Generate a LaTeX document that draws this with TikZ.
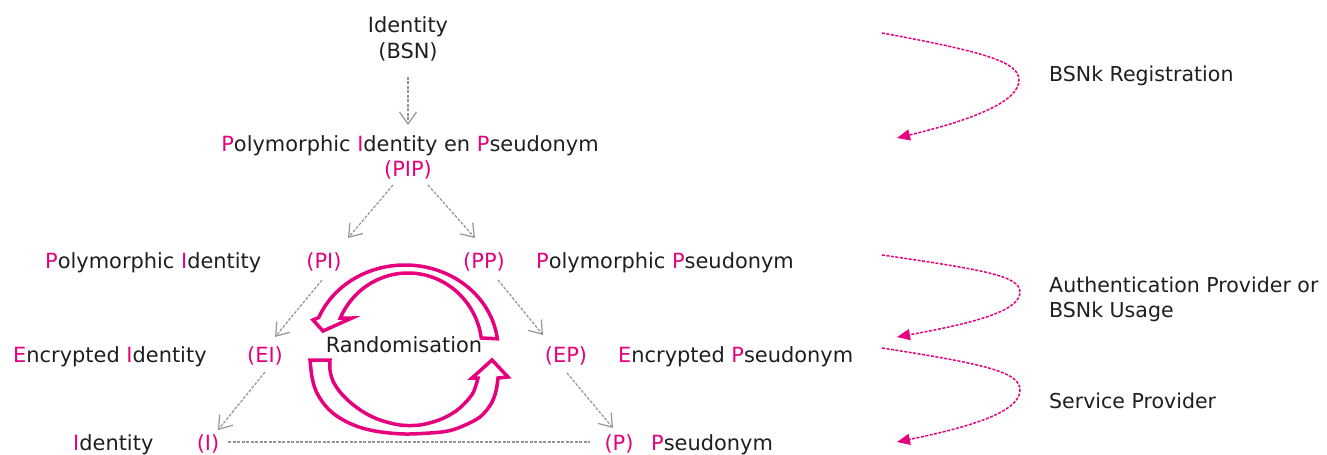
\documentclass[tikz,border=0pt]{standalone}
\usepackage{fontspec}
\setmainfont{DejaVu Sans}
\usetikzlibrary{arrows.meta}
\definecolor{pk}{HTML}{E6007E}
\definecolor{gr}{HTML}{959595}
\definecolor{tx}{HTML}{1E1E1E}
\newcommand{\pinkc}[1]{\textcolor{pk}{#1}}
\begin{document}
\begin{tikzpicture}[x=1bp,y=-1bp,
  lbl/.style={inner sep=0pt, text=tx, font=\fontsize{21}{25}\selectfont},
  rlbl/.style={lbl, font=\fontsize{20.6}{25}\selectfont},
  plbl/.style={lbl, text=pk},
  flow/.style={draw=gr, line width=1.2bp, dash pattern=on 3bp off 1.5bp,
    -{Straight Barb[length=12bp,width=17bp,line width=1.2bp]}},
  link/.style={draw=gr, line width=1.2bp, dash pattern=on 3bp off 1.5bp},
  stage/.style={draw=pk, line width=1.5bp, dash pattern=on 3bp off 1.5bp,
    -{Triangle[length=13bp,width=11bp]}},
  randarrow/.style={draw=pk, fill=white, line width=3.5bp, line join=miter}
]
\useasboundingbox (0,0) rectangle (1327,455);

% ---- text nodes ----
\node[lbl, anchor=base] (idtop) at (408,33) {Identity};
\node[lbl, anchor=base] (bsn) at (408,59) {(BSN)};
\node[lbl, anchor=base] (pipname) at (410,152) {\pinkc{P}olymorphic \pinkc{I}dentity en \pinkc{P}seudonym};
\node[plbl, anchor=base] (pip) at (408,177) {(PIP)};

\node[lbl, anchor=base west] (piname) at (45,269) {\pinkc{P}olymorphic \pinkc{I}dentity};
\node[plbl, anchor=base] (pi) at (324,269) {(PI)};
\node[plbl, anchor=base] (pp) at (484,269) {(PP)};
\node[lbl, anchor=base west] (ppname) at (536,269) {\pinkc{P}olymorphic \pinkc{P}seudonym};

\node[lbl, anchor=base west] (einame) at (13,362) {\pinkc{E}ncrypted \pinkc{I}dentity};
\node[plbl, anchor=base] (ei) at (265,362) {(EI)};
\node[plbl, anchor=base] (ep) at (566,362) {(EP)};
\node[lbl, anchor=base west] (epname) at (618,362) {\pinkc{E}ncrypted \pinkc{P}seudonym};

\node[lbl, anchor=base west] (iname) at (73,450) {\pinkc{I}dentity};
\node[plbl, anchor=base] (i) at (208,450) {(I)};
\node[plbl, anchor=base] (p) at (619,450) {(P)};
\node[lbl, anchor=base west] (pname) at (651,450) {\pinkc{P}seudonym};

\node[rlbl, anchor=base west] (reg) at (1049,82) {BSNk Registration};
\node[rlbl, anchor=base west] (auth1) at (1049,293) {Authentication Provider or};
\node[rlbl, anchor=base west] (auth2) at (1049,318) {BSNk Usage};
\node[rlbl, anchor=base west] (sp) at (1049,408) {Service Provider};

% ---- randomisation circular arrows ----
\draw[randarrow]
  plot[domain=353:202, samples=70] ({405+93*cos(\x)},{349+84*sin(\x)})
  -- (313,320) -- (323,331) -- (352,318)
  -- plot[domain=203.8:352, samples=70] ({408+74*cos(\x)},{348.5+75.5*sin(\x)})
  -- cycle;
\draw[randarrow]
  plot[smooth, tension=0.55] coordinates {(310,360) (312,377) (316,391) (324,404) (334,414) (347,422) (362,428) (381,432) (405,434) (430,433) (448,431) (463,426) (480,417) (491,404) (496,391) (498,378)}
  -- (508,377) -- (492,360) -- (472,378) -- (478,378)
  -- plot[smooth, tension=0.55] coordinates {(478,378) (473,393) (463,405) (453,413) (439,420) (420,425) (400,425) (380,420) (365,413) (351,403) (340,392) (333,381) (330,370) (330,360)}
  -- cycle;
\node[lbl, anchor=base] (rand) at (404,352) {Randomisation};

% ---- connector end points ----
\coordinate (bsnout) at (408,77);  \coordinate (pipin) at (408,125);
\coordinate (pipl) at (393,185);   \coordinate (piin) at (348,238);
\coordinate (pipr) at (428,185);   \coordinate (ppin) at (475,238);
\coordinate (piout) at (322,280);  \coordinate (eiin) at (275,337);
\coordinate (ppout) at (498,280);  \coordinate (epin) at (543,335);
\coordinate (eiout) at (265,372);  \coordinate (iin) at (218,430);
\coordinate (epout) at (567,373);  \coordinate (pin) at (613,428);
\coordinate (iend) at (228,442);   \coordinate (pend) at (590,442);

\draw[flow] (bsnout) -- (pipin);
\draw[flow] (pipl) -- (piin);
\draw[flow] (pipr) -- (ppin);
\draw[flow] (piout) -- (eiin);
\draw[flow] (ppout) -- (epin);
\draw[flow] (eiout) -- (iin);
\draw[flow] (epout) -- (pin);
\draw[link] (iend) -- (pend);

% ---- stage arrows on the right ----
\coordinate (s1a) at (882,33);  \coordinate (s1m) at (1019,80);  \coordinate (s1b) at (897,138);
\coordinate (s2a) at (882,255); \coordinate (s2m) at (1020,292); \coordinate (s2b) at (897,337);
\coordinate (s3a) at (882,348); \coordinate (s3m) at (1020,390); \coordinate (s3b) at (897,442);
\draw[stage] (s1a) .. controls (985,52) and (1019,62) .. (s1m) .. controls (1019,100) and (980,118) .. (s1b);
\draw[stage] (s2a) .. controls (985,270) and (1020,276) .. (s2m) .. controls (1020,310) and (980,322) .. (s2b);
\draw[stage] (s3a) .. controls (985,364) and (1020,372) .. (s3m) .. controls (1020,410) and (980,425) .. (s3b);
\end{tikzpicture}
\end{document}
